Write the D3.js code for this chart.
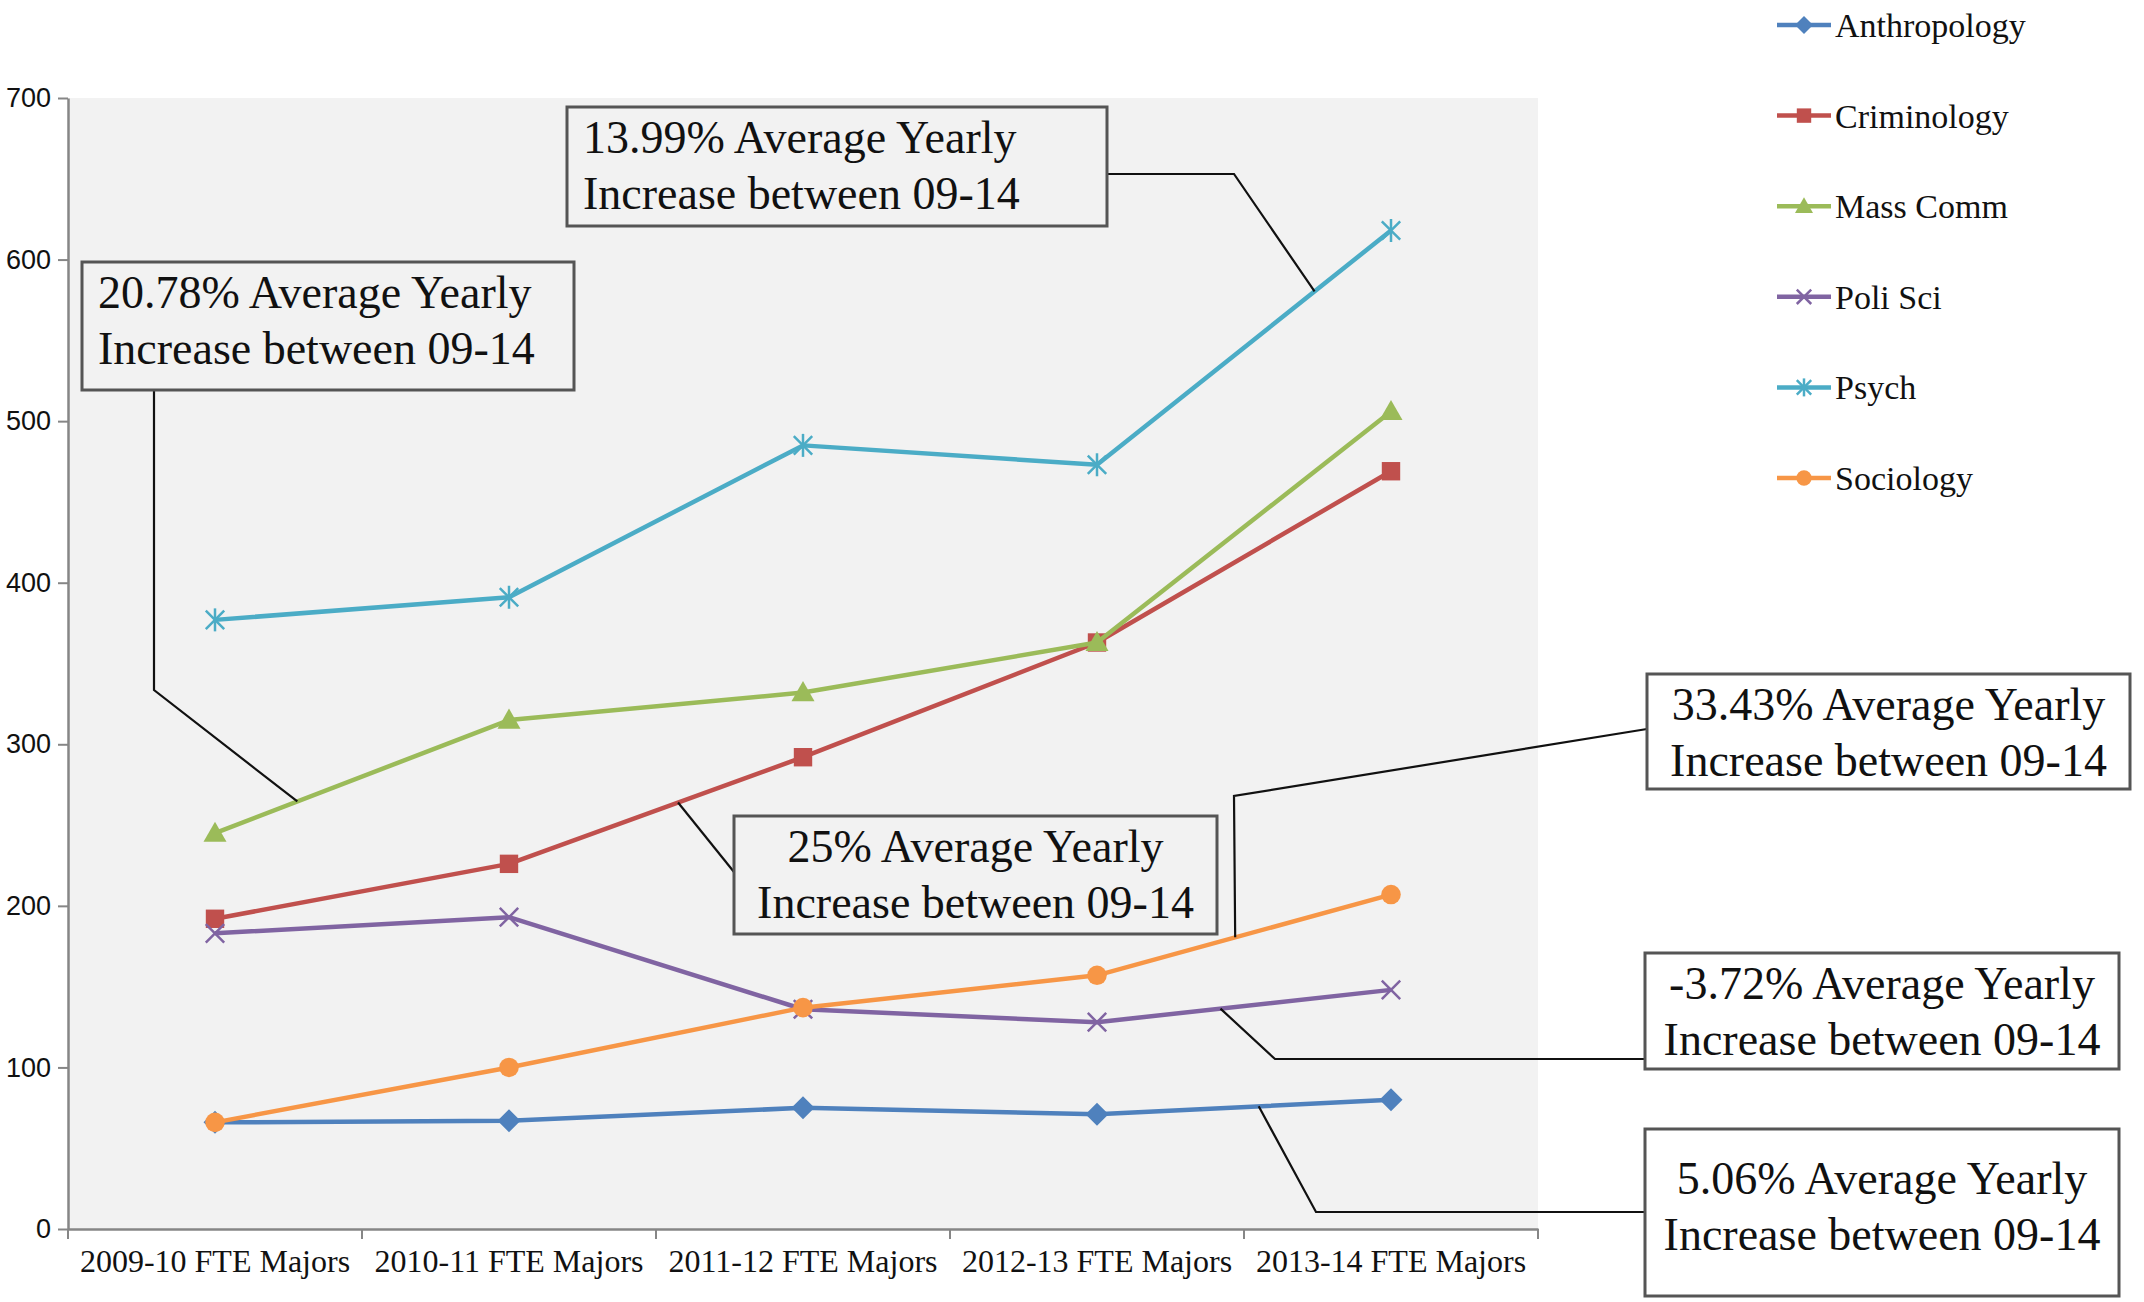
<!DOCTYPE html>
<html>
<head>
<meta charset="utf-8">
<script src="https://cdn.jsdelivr.net/npm/d3@7"></script>
<style>
  body { margin: 0; background: #fff; }
  text { font-family: "Liberation Serif", "Times New Roman", serif; fill: #111; }
</style>
</head>
<body>
<div id="chart"></div>
<script>
const categories = ["2009-10 FTE Majors", "2010-11 FTE Majors", "2011-12 FTE Majors", "2012-13 FTE Majors", "2013-14 FTE Majors"];
const seriesNames = ["Anthropology", "Criminology", "Mass Comm", "Poli Sci", "Psych", "Sociology"];
const anthropology = [66, 67, 75, 71, 80];
const criminology = [192, 226, 292, 363, 469];
const massComm = [245, 315, 332, 363, 506];
const poliSci = [183, 193, 136, 128, 148];
const psych = [377, 391, 485, 473, 618];
const sociology = [66, 100, 137, 157, 207];
const yTicks = [0, 100, 200, 300, 400, 500, 600, 700];
const notes = [
  ["13.99% Average Yearly", "Increase between 09-14"],
  ["20.78% Average Yearly", "Increase between 09-14"],
  ["25% Average Yearly", "Increase between 09-14"],
  ["33.43% Average Yearly", "Increase between 09-14"],
  ["-3.72% Average Yearly", "Increase between 09-14"],
  ["5.06% Average Yearly", "Increase between 09-14"]
];

const values = [anthropology, criminology, massComm, poliSci, psych, sociology];
const colors = ["#4F81BD", "#C0504D", "#9BBB59", "#8064A2", "#4BACC6", "#F79646"];
const shapes = ["diamond", "square", "triangle", "x", "star", "circle"];

const W = 2144, H = 1302;
const plot = { left: 68, right: 1538, top: 98, bottom: 1229 };

const svg = d3.select("#chart").append("svg")
  .attr("width", W)
  .attr("height", H);

const x = d3.scaleBand()
  .domain(categories)
  .range([plot.left, plot.right]);
const cx = c => x(c) + x.bandwidth() / 2;

const y = d3.scaleLinear()
  .domain([0, 700])
  .range([plot.bottom, plot.top]);

// plot area
svg.append("rect")
  .attr("x", plot.left).attr("y", plot.top)
  .attr("width", plot.right - plot.left)
  .attr("height", plot.bottom - plot.top)
  .attr("fill", "#F2F2F2");

// y axis
const yAxis = svg.append("g")
  .attr("transform", `translate(${plot.left},0)`)
  .call(d3.axisLeft(y).tickValues(yTicks).tickSize(10).tickSizeOuter(0).tickPadding(7));
yAxis.select(".domain").attr("stroke", "#868686").attr("stroke-width", 2.5);
yAxis.selectAll(".tick line").attr("stroke", "#868686").attr("stroke-width", 2);
yAxis.selectAll(".tick text")
  .style("font-family", "'Liberation Sans', Arial, sans-serif")
  .style("font-size", "27px")
  .attr("fill", "#111");

// x axis
const xAxis = svg.append("g")
  .attr("transform", `translate(0,${plot.bottom})`)
  .call(d3.axisBottom(x).tickSize(0).tickSizeOuter(0).tickPadding(20));
xAxis.select(".domain").attr("stroke", "#868686").attr("stroke-width", 2.5);
xAxis.selectAll(".tick text").style("font-size", "32px").attr("fill", "#111");
const bounds = categories.map(c => x(c)).concat([plot.right]);
xAxis.selectAll(".bound").data(bounds).enter().append("line")
  .attr("x1", d => d).attr("x2", d => d)
  .attr("y1", 0).attr("y2", 10)
  .attr("stroke", "#868686").attr("stroke-width", 2);

// markers
function marker(g, shape, color, s) {
  if (shape === "diamond") {
    g.append("path").attr("d", `M0,${-s}L${s},0L0,${s}L${-s},0Z`).attr("fill", color);
  } else if (shape === "square") {
    g.append("rect").attr("x", -s * 0.8).attr("y", -s * 0.8).attr("width", s * 1.6).attr("height", s * 1.6).attr("fill", color);
  } else if (shape === "triangle") {
    g.append("path").attr("d", `M0,${-s}L${s},${s * 0.75}L${-s},${s * 0.75}Z`).attr("fill", color);
  } else if (shape === "circle") {
    g.append("circle").attr("r", s * 0.85).attr("fill", color);
  } else {
    const k = s * 0.8;
    g.append("path").attr("d", `M${-k},${-k}L${k},${k}M${-k},${k}L${k},${-k}`)
      .attr("stroke", color).attr("stroke-width", 2.5);
    if (shape === "star") {
      g.append("path").attr("d", `M0,${-s}L0,${s}`).attr("stroke", color).attr("stroke-width", 2.5);
    }
  }
}

const line = d3.line()
  .x((d, i) => cx(categories[i]))
  .y(d => y(d));

values.forEach((vals, si) => {
  svg.append("path")
    .datum(vals)
    .attr("d", line)
    .attr("fill", "none")
    .attr("stroke", colors[si])
    .attr("stroke-width", 4.5)
    .attr("stroke-linejoin", "round");
  svg.selectAll(".m" + si)
    .data(vals)
    .enter().append("g")
    .attr("transform", (d, i) => `translate(${cx(categories[i])},${y(d)})`)
    .each(function () { marker(d3.select(this), shapes[si], colors[si], 11.5); });
});

// legend
const legend = svg.append("g").attr("transform", "translate(1777,25)");
seriesNames.forEach((name, i) => {
  const row = legend.append("g").attr("transform", `translate(0,${i * 90.6})`);
  row.append("line").attr("x1", 0).attr("x2", 54).attr("stroke", colors[i]).attr("stroke-width", 4.5);
  const m = row.append("g").attr("transform", "translate(27,0)");
  marker(m, shapes[i], colors[i], 9);
  row.append("text").attr("x", 58).attr("dy", "0.35em")
    .style("font-size", "34px").text(name);
});

// annotation boxes: box rect, leader path (elbow), target on a series segment
const boxes = [
  { x: 567, y: 107, w: 540, h: 119, fill: "#F2F2F2", anchor: "left", from: [1107, 174], elbow: [[1234, 174]], series: 4, seg: 3, t: 0.74 },
  { x: 82, y: 262, w: 492, h: 128, fill: "#F2F2F2", anchor: "left", from: [154, 390], elbow: [[154, 690]], series: 2, seg: 0, t: 0.28 },
  { x: 734, y: 816, w: 483, h: 118, fill: "#F2F2F2", anchor: "middle", from: [734, 872], elbow: [], series: 1, seg: 1, t: 0.575 },
  { x: 1647, y: 674, w: 483, h: 115, fill: "#fff", anchor: "middle", from: [1647, 729], elbow: [[1234, 796]], series: 5, seg: 3, t: 0.47 },
  { x: 1645, y: 953, w: 474, h: 116, fill: "#fff", anchor: "middle", from: [1645, 1059], elbow: [[1275, 1059]], series: 3, seg: 3, t: 0.42 },
  { x: 1645, y: 1129, w: 474, h: 167, fill: "#fff", anchor: "middle", from: [1645, 1212], elbow: [[1316, 1212]], series: 0, seg: 3, t: 0.55 }
];

boxes.forEach((b, i) => {
  const vals = values[b.series];
  const x0 = cx(categories[b.seg]), x1 = cx(categories[b.seg + 1]);
  const target = [x0 + (x1 - x0) * b.t, y(vals[b.seg] + (vals[b.seg + 1] - vals[b.seg]) * b.t)];
  const pts = [b.from].concat(b.elbow, [target]);
  svg.append("path")
    .attr("d", d3.line()(pts))
    .attr("fill", "none").attr("stroke", "#111").attr("stroke-width", 2.2);
  svg.append("rect")
    .attr("x", b.x).attr("y", b.y).attr("width", b.w).attr("height", b.h)
    .attr("fill", b.fill).attr("stroke", "#555").attr("stroke-width", 3);
  const tx = b.anchor === "left" ? b.x + 16 : b.x + b.w / 2;
  const top = i === 5 ? b.y + 49 : b.y + 30;
  notes[i].forEach((ln, j) => {
    svg.append("text")
      .attr("x", tx).attr("y", top + j * 56)
      .attr("dy", "0.35em")
      .attr("text-anchor", b.anchor === "left" ? "start" : "middle")
      .style("font-size", "46px")
      .text(ln);
  });
});
</script>
</body>
</html>
